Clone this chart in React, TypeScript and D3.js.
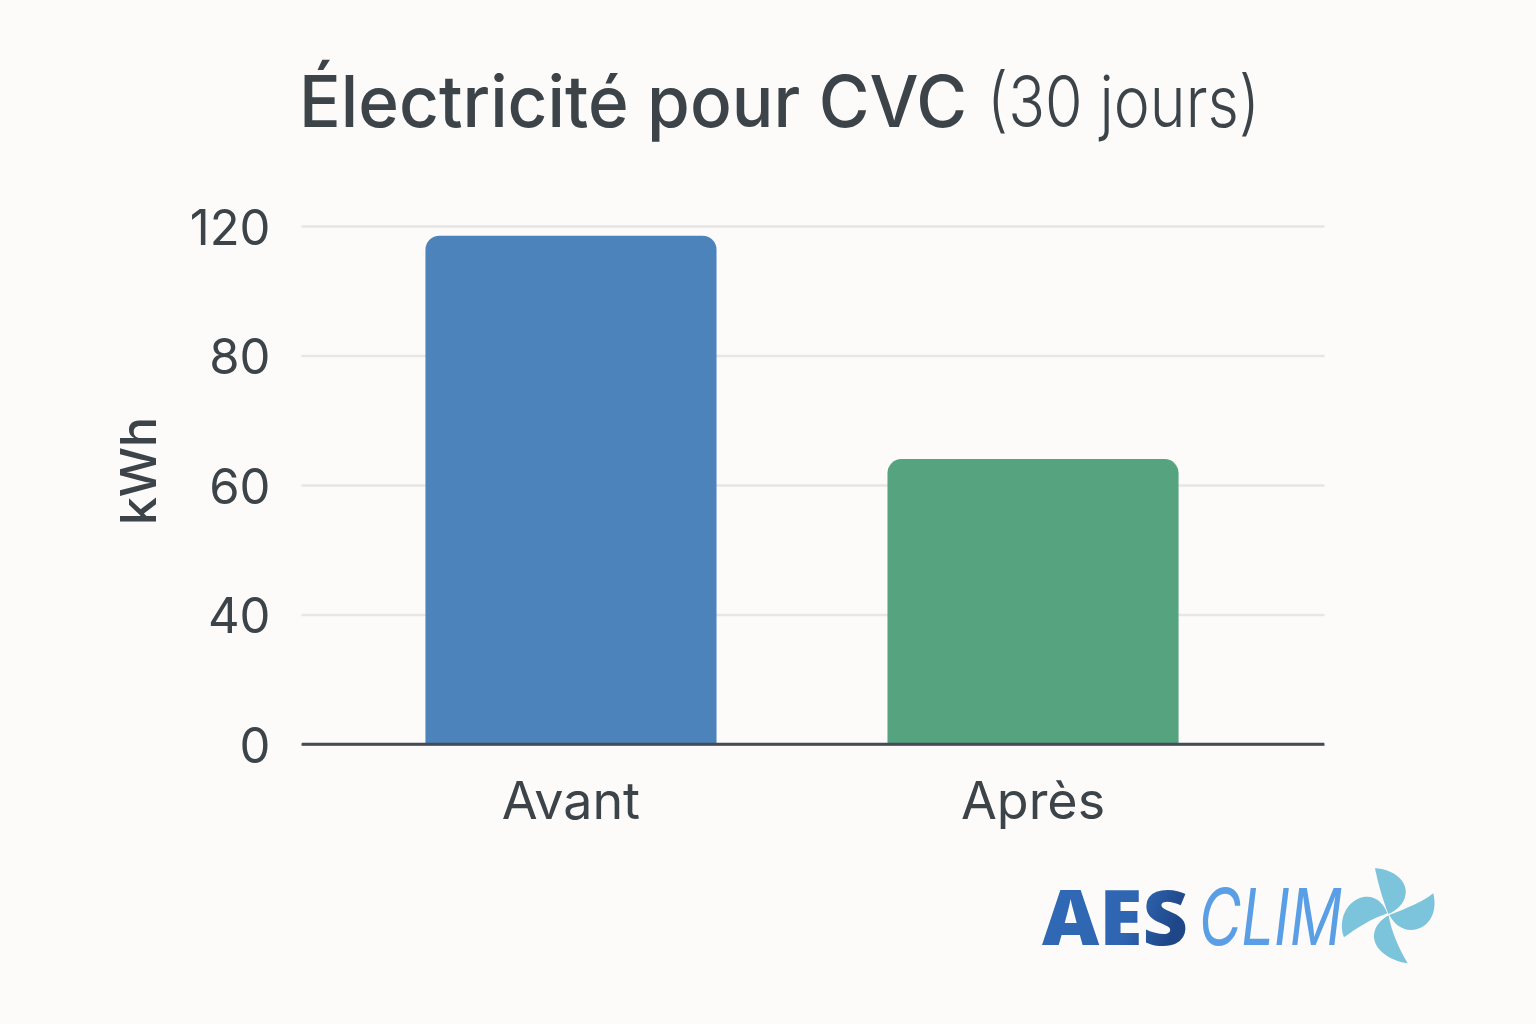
import { useEffect, useRef } from "react";
import * as d3 from "d3";

const CATEGORIES = ["Avant", "Après"];
const VALUES = [117, 64];
const BAR_COLORS = ["#4c83ba", "#55a47f"];
const TICK_VALUES = [0, 40, 60, 80, 120];
// The printed axis has evenly spaced ticks even though the values are not
const TICK_POSITIONS = [744, 614.5, 485, 355.5, 226];

const WIDTH = 1536;
const HEIGHT = 1024;
const BACKGROUND = "#fcfbf9";
const TEXT_COLOR = "#3c4449";
const GRID_COLOR = "#e6e6e4";
const BASELINE_COLOR = "#454a55";
const FONT = "Inter, Roboto, sans-serif";
const BAR_RADIUS = 14;

const FAN_BLADES = [
  "M1075 162 C1055 110 1042 60 1035 25 C1090 28 1132 62 1127 102 C1122 135 1098 152 1075 162 Z",
  "M1078 165 C1130 145 1180 125 1210 100 C1222 150 1205 195 1160 208 C1122 218 1092 192 1078 165 Z",
  "M1076 166 C1085 220 1110 270 1133 310 C1078 302 1030 268 1032 225 C1034 198 1055 178 1076 166 Z",
  "M1072 160 C1020 178 980 205 942 232 C925 190 942 125 1000 111 C1038 104 1062 132 1072 160 Z",
];

function renderChart(container: SVGSVGElement | null) {
  if (!container) return;
  d3.select(container).selectAll("*").remove();

  const svg = d3.select(container);

  const x = d3
    .scaleBand<string>()
    .domain(CATEGORIES)
    .range([291, 1313])
    .paddingInner(0.37)
    .paddingOuter(0.291);
  // piecewise, because the axis in the picture is not linear
  const y = d3.scaleLinear().domain(TICK_VALUES).range(TICK_POSITIONS);

  const defs = svg.append("defs");
  const aes = defs
    .append("linearGradient")
    .attr("id", "aes-gradient")
    .attr("x1", 0)
    .attr("x2", 1)
    .attr("y1", 0)
    .attr("y2", 0.3);
  aes.append("stop").attr("offset", "0%").attr("stop-color", "#3069b5");
  aes.append("stop").attr("offset", "70%").attr("stop-color", "#2f66b2");
  aes.append("stop").attr("offset", "100%").attr("stop-color", "#1f4788");

  svg.append("rect").attr("width", WIDTH).attr("height", HEIGHT).attr("fill", BACKGROUND);

  svg
    .append("text")
    .attr("x", 299)
    .attr("y", 127)
    .attr("font-family", FONT)
    .attr("font-size", 71)
    .attr("font-weight", 500)
    .attr("textLength", 668)
    .attr("lengthAdjust", "spacingAndGlyphs")
    .attr("fill", TEXT_COLOR)
    .text("Électricité pour CVC");
  svg
    .append("text")
    .attr("x", 987)
    .attr("y", 127)
    .attr("font-family", FONT)
    .attr("font-size", 71)
    .attr("font-weight", 300)
    .attr("textLength", 273)
    .attr("lengthAdjust", "spacingAndGlyphs")
    .attr("fill", TEXT_COLOR)
    .text("(30 jours)");

  // Gridlines come with the axis ticks, bars are drawn over them
  const yAxis = d3
    .axisLeft(y)
    .tickValues(TICK_VALUES)
    .tickFormat((d) => String(d))
    .tickSize(-1023)
    .tickPadding(31);
  const yGroup = svg.append("g").attr("transform", "translate(301.5,0)").call(yAxis);
  yGroup.select(".domain").remove();
  yGroup
    .selectAll<SVGLineElement, number>(".tick line")
    .attr("stroke", (d) => (d === 0 ? BASELINE_COLOR : GRID_COLOR))
    .attr("stroke-width", 2.5);
  yGroup
    .selectAll("text")
    .attr("font-family", FONT)
    .attr("font-size", 49)
    .attr("dy", "0.37em")
    .attr("fill", TEXT_COLOR);

  const barPath = (category: string, value: number) => {
    const left = x(category)!;
    const right = left + x.bandwidth();
    const top = y(value);
    const bottom = y(0);
    const p = d3.path();
    p.moveTo(left, bottom);
    p.lineTo(left, top + BAR_RADIUS);
    p.arcTo(left, top, left + BAR_RADIUS, top, BAR_RADIUS);
    p.lineTo(right - BAR_RADIUS, top);
    p.arcTo(right, top, right, top + BAR_RADIUS, BAR_RADIUS);
    p.lineTo(right, bottom);
    p.closePath();
    return p.toString();
  };

  svg
    .append("g")
    .selectAll("path")
    .data(CATEGORIES)
    .join("path")
    .attr("d", (d, i) => barPath(d, VALUES[i]))
    .attr("fill", (d, i) => BAR_COLORS[i]);

  // Baseline sits on top of the bars
  svg
    .append("line")
    .attr("x1", 302)
    .attr("x2", 1324)
    .attr("y1", y(0))
    .attr("y2", y(0))
    .attr("stroke", BASELINE_COLOR)
    .attr("stroke-width", 2.5);

  const xAxis = d3.axisBottom(x).tickSize(0).tickPadding(38);
  const xGroup = svg.append("g").attr("transform", `translate(0,${y(0)})`).call(xAxis);
  xGroup.select(".domain").remove();
  xGroup
    .selectAll("text")
    .attr("font-family", FONT)
    .attr("font-size", 52)
    .attr("fill", TEXT_COLOR);

  svg
    .append("text")
    .attr("transform", "translate(156,471) rotate(-90)")
    .attr("text-anchor", "middle")
    .attr("font-family", FONT)
    .attr("font-size", 50)
    .attr("font-weight", 500)
    .attr("fill", TEXT_COLOR)
    .text("kWh");

  // Logo, bottom right
  const logo = svg.append("g");
  logo
    .append("text")
    .attr("x", 1042)
    .attr("y", 945)
    .attr("font-family", "'Open Sans', Inter, sans-serif")
    .attr("font-size", 76)
    .attr("font-weight", 800)
    .attr("textLength", 146)
    .attr("lengthAdjust", "spacingAndGlyphs")
    .attr("fill", "url(#aes-gradient)")
    .text("AES");
  logo
    .append("text")
    .attr("x", 1199)
    .attr("y", 945)
    .attr("font-family", "Inter, sans-serif")
    .attr("font-size", 78)
    .attr("font-weight", 400)
    .attr("font-style", "italic")
    .attr("textLength", 143)
    .attr("lengthAdjust", "spacingAndGlyphs")
    .attr("fill", "#5a9fe6")
    .text("CLIM");
  logo
    .append("g")
    .attr("transform", "translate(1030,860) scale(0.3333)")
    .selectAll("path")
    .data(FAN_BLADES)
    .join("path")
    .attr("d", (d) => d)
    .attr("fill", "#7cc3dc");
}

export default function App() {
  const svgRef = useRef<SVGSVGElement>(null);

  useEffect(() => {
    renderChart(svgRef.current);
  }, []);

  return (
    <svg
      ref={svgRef}
      width={WIDTH}
      height={HEIGHT}
      viewBox={`0 0 ${WIDTH} ${HEIGHT}`}
      style={{ position: "absolute", left: 0, top: 0, display: "block" }}
    />
  );
}
